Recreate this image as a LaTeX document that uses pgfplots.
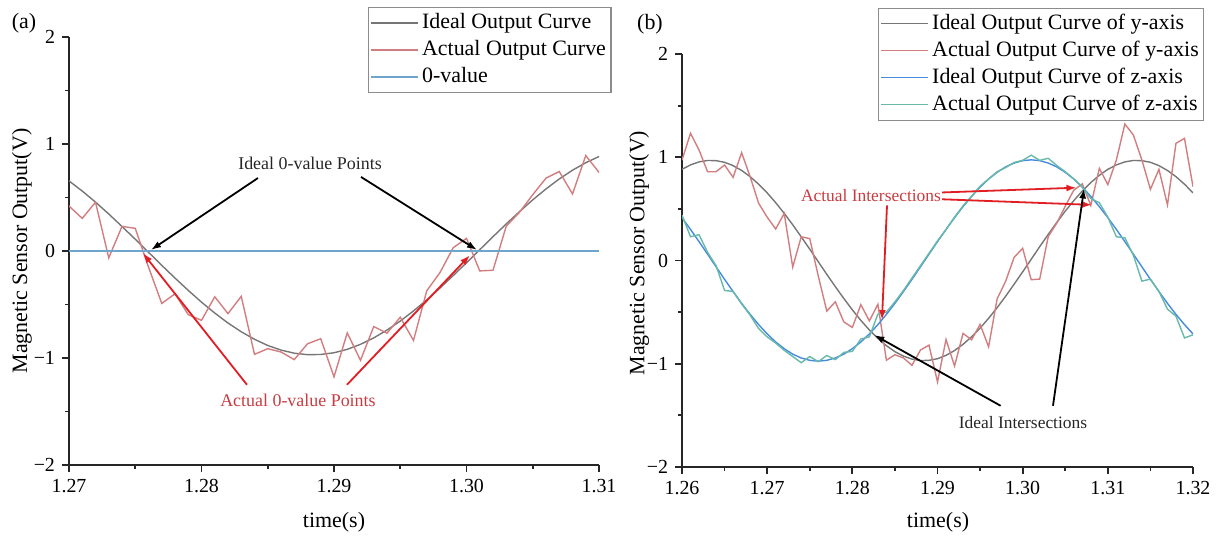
\documentclass[border=0pt]{standalone}
\usepackage{fontspec}
\setmainfont{Liberation Serif}
\usepackage{pgfplots}
\pgfplotsset{compat=1.18}
\usepackage{pgfplotstable}
\usetikzlibrary{arrows.meta}

\definecolor{cIdeal}{RGB}{118,118,118}
\definecolor{cAct}{RGB}{210,126,128}
\definecolor{cZero}{RGB}{110,165,205}
\definecolor{cZi}{RGB}{70,140,220}
\definecolor{cZa}{RGB}{105,185,170}
\definecolor{cRedArr}{RGB}{225,30,35}
\definecolor{cRedTxt}{RGB}{200,60,65}

\pgfplotstableread{
t yi ya zi za
1.260 0.883 0.973 0.415 0.44
1.261 0.926 1.232 0.301 0.23
1.262 0.955 1.070 0.183 0.25
1.263 0.969 0.860 0.061 0.08
1.264 0.967 0.860 -0.061 -0.05
1.265 0.951 0.925 -0.183 -0.29
1.266 0.919 0.805 -0.301 -0.30
1.267 0.872 1.044 -0.415 -0.42
1.268 0.812 0.812 -0.522 -0.53
1.269 0.739 0.554 -0.621 -0.66
1.270 0.655 0.420 -0.711 -0.74
1.271 0.560 0.305 -0.789 -0.80
1.272 0.457 0.456 -0.854 -0.87
1.273 0.346 -0.064 -0.907 -0.93
1.274 0.229 0.230 -0.944 -0.99
1.275 0.110 0.212 -0.967 -0.93
1.276 -0.012 -0.150 -0.975 -0.98
1.277 -0.134 -0.490 -0.967 -0.92
1.278 -0.253 -0.400 -0.944 -0.96
1.279 -0.368 -0.595 -0.907 -0.89
1.280 -0.478 -0.648 -0.854 -0.88
1.281 -0.580 -0.428 -0.789 -0.76
1.282 -0.673 -0.585 -0.711 -0.74
1.283 -0.755 -0.424 -0.621 -0.52
1.284 -0.825 -0.966 -0.522 -0.50
1.285 -0.883 -0.913 -0.415 -0.40
1.286 -0.926 -0.944 -0.301 -0.29
1.287 -0.955 -1.015 -0.183 -0.17
1.288 -0.969 -0.867 -0.061 -0.05
1.289 -0.967 -0.820 0.061 0.07
1.290 -0.951 -1.176 0.183 0.19
1.291 -0.919 -0.765 0.301 0.30
1.292 -0.872 -1.022 0.415 0.42
1.293 -0.812 -0.706 0.522 0.53
1.294 -0.739 -0.768 0.621 0.62
1.295 -0.655 -0.619 0.711 0.72
1.296 -0.560 -0.836 0.789 0.79
1.297 -0.457 -0.372 0.854 0.86
1.298 -0.346 -0.201 0.907 0.90
1.299 -0.229 0.031 0.944 0.95
1.300 -0.110 0.118 0.967 0.97
1.301 0.012 -0.186 0.975 1.02
1.302 0.134 -0.180 0.967 0.97
1.303 0.253 0.232 0.944 0.99
1.304 0.368 0.362 0.907 0.92
1.305 0.478 0.526 0.854 0.86
1.306 0.580 0.681 0.789 0.79
1.307 0.673 0.743 0.711 0.71
1.308 0.755 0.533 0.621 0.60
1.309 0.825 0.892 0.522 0.56
1.310 0.883 0.735 0.415 0.42
1.311 0.926 0.973 0.301 0.23
1.312 0.955 1.322 0.183 0.22
1.313 0.969 1.215 0.061 0.05
1.314 0.967 0.973 -0.061 -0.20
1.315 0.951 0.689 -0.183 -0.18
1.316 0.919 0.883 -0.301 -0.30
1.317 0.872 0.538 -0.415 -0.47
1.318 0.812 1.135 -0.522 -0.54
1.319 0.739 1.183 -0.621 -0.75
1.320 0.655 0.715 -0.711 -0.72
}\data

\pgfplotsset{
  myaxis/.style={
    scale only axis,
    axis lines=left,
    axis line style={-, line width=0.9bp, black!85},
    tick align=outside,
    major tick length=3.5bp, minor tick length=2bp,
    tick style={black!85, line width=0.9bp},
    minor x tick num=1, minor y tick num=1,
    ymin=-2, ymax=2,
    ytick={-2,-1,0,1,2}, yticklabels={−2,−1,0,1,2},
    tick label style={font=\fontsize{10}{12}\selectfont},
    label style={font=\fontsize{11}{13}\selectfont},
    xlabel={time(s)}, ylabel={Magnetic Sensor Output(V)},
    legend cell align=left,
    legend style={draw=black!45, line width=0.6bp, anchor=north west,
      font=\fontsize{11}{13}\selectfont, inner xsep=1bp, inner ysep=1bp,
      row sep=0pt,
      nodes={text height=8bp, text depth=2.5bp, inner ysep=1.5bp, inner xsep=1.5bp}},
    legend image code/.code={\draw[#1, line width=0.8bp] (0bp,0bp) -- (23.5bp,0bp);},
    every axis plot/.append style={line width=0.7bp},
  }
}

\begin{document}
\begin{tikzpicture}
\path[use as bounding box] (0,0) rectangle (609.5bp,268bp);

% ---------- (a) ----------
\begin{axis}[myaxis,
  at={(34.5bp,35.5bp)}, anchor=south west,
  width=265bp, height=214bp,
  xmin=1.27, xmax=1.31,
  xtick={1.27,1.28,1.29,1.30,1.31},
  xticklabels={1.27,1.28,1.29,1.30,1.31},
  xlabel style={at={(axis description cs:0.5,-0.133)}, anchor=center},
  ylabel style={at={(axis description cs:-0.089,0.5)}, anchor=center},
  legend style={at={(axis description cs:0.564,1.070)}},
]
\addplot[cIdeal] table[x=t, y=yi] {\data};
\addlegendentry{Ideal Output Curve}
\addplot[cAct] table[x=t, y=ya] {\data};
\addlegendentry{Actual Output Curve}
\addplot[cZero] coordinates {(1.27,0) (1.31,0)};
\addlegendentry{0-value}

\node[font=\fontsize{9}{11}\selectfont, text=black!85] at (axis cs:1.28819,0.822) {Ideal 0-value Points};
\draw[-{Latex[length=5bp,width=3.5bp]}, line width=0.9bp, black] (axis cs:1.28426,0.682) -- (axis cs:1.27619,0.01);
\draw[-{Latex[length=5bp,width=3.5bp]}, line width=0.9bp, black] (axis cs:1.29204,0.692) -- (axis cs:1.30079,0.01);
\node[font=\fontsize{9}{11}\selectfont, text=cRedTxt] at (axis cs:1.28728,-1.40) {Actual 0-value Points};
\draw[-{Latex[length=5bp,width=3.5bp]}, line width=0.9bp, cRedArr] (axis cs:1.28343,-1.25) -- (axis cs:1.27558,-0.02);
\draw[-{Latex[length=5bp,width=3.5bp]}, line width=0.9bp, cRedArr] (axis cs:1.29098,-1.25) -- (axis cs:1.30026,-0.04);
\end{axis}

% ---------- (b) ----------
\begin{axis}[myaxis,
  at={(341bp,34.5bp)}, anchor=south west,
  width=255.5bp, height=206.5bp,
  xmin=1.26, xmax=1.32,
  xtick={1.26,1.27,1.28,1.29,1.30,1.31,1.32},
  xticklabels={1.26,1.27,1.28,1.29,1.30,1.31,1.32},
  xlabel style={at={(axis description cs:0.501,-0.133)}, anchor=center},
  ylabel style={at={(axis description cs:-0.084,0.518)}, anchor=center},
  legend style={at={(axis description cs:0.3836,1.1126)}},
]
\addplot[cIdeal] table[x=t, y=yi] {\data};
\addlegendentry{Ideal Output Curve of y-axis}
\addplot[cAct] table[x=t, y=ya] {\data};
\addlegendentry{Actual Output Curve of y-axis}
\addplot[cZi] table[x=t, y=zi] {\data};
\addlegendentry{Ideal Output Curve of z-axis}
\addplot[cZa] table[x=t, y=za] {\data};
\addlegendentry{Actual Output Curve of z-axis}

\node[font=\fontsize{8.75}{10.5}\selectfont, text=cRedTxt] at (axis cs:1.28219,0.634) {Actual Intersections};
\draw[-{Latex[length=5bp,width=3.5bp]}, line width=0.9bp, cRedArr] (axis cs:1.29053,0.659) -- (axis cs:1.30631,0.705);
\draw[-{Latex[length=5bp,width=3.5bp]}, line width=0.9bp, cRedArr] (axis cs:1.29053,0.593) -- (axis cs:1.30813,0.539);
\draw[-{Latex[length=5bp,width=3.5bp]}, line width=0.9bp, cRedArr] (axis cs:1.28407,0.533) -- (axis cs:1.28348,-0.576);
\node[font=\fontsize{8.75}{10.5}\selectfont, text=black!85] at (axis cs:1.30004,-1.574) {Ideal Intersections};
\draw[-{Latex[length=5bp,width=3.5bp]}, line width=0.9bp, black] (axis cs:1.29741,-1.407) -- (axis cs:1.28258,-0.722);
\draw[-{Latex[length=5bp,width=3.5bp]}, line width=0.9bp, black] (axis cs:1.30356,-1.407) -- (axis cs:1.30721,0.698);
\end{axis}

\node[font=\fontsize{11}{13}\selectfont] at (12bp,256.5bp) {(a)};
\node[font=\fontsize{11}{13}\selectfont] at (325bp,256bp) {(b)};
\end{tikzpicture}
\end{document}
